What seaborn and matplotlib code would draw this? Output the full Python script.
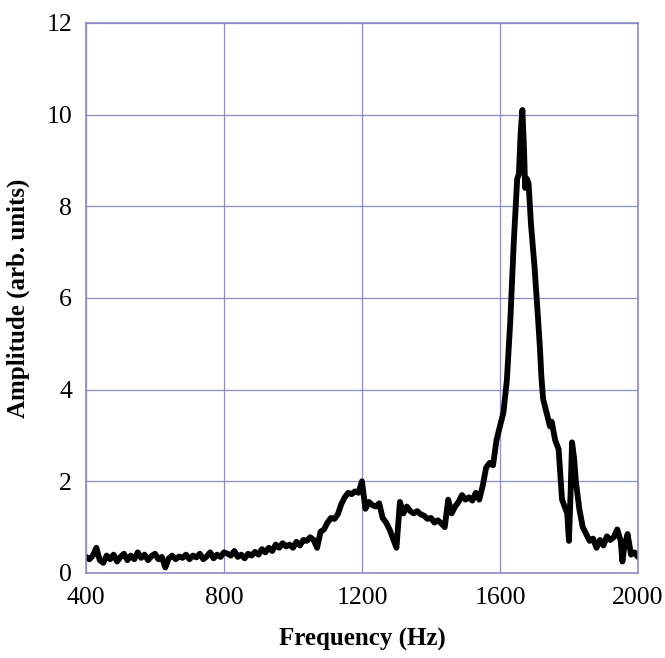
import numpy as np
import pandas as pd
import matplotlib
matplotlib.use('Agg')
import matplotlib.pyplot as plt
from matplotlib.ticker import MultipleLocator
import seaborn as sns

# spectrum
freq = [400, 410, 420, 430, 440, 450, 460, 470, 480, 490,
        500, 510, 520, 530, 540, 550, 560, 570, 580, 590,
        600, 610, 620, 630, 640, 650, 660, 670, 680, 690,
        700, 710, 720, 730, 740, 750, 760, 770, 780, 790,
        800, 810, 820, 830, 840, 850, 860, 870, 880, 890,
        900, 910, 920, 930, 940, 950, 960, 970, 980, 990,
        1000, 1010, 1020, 1030, 1040, 1050, 1060, 1070, 1080, 1090,
        1100, 1110, 1120, 1130, 1140, 1150, 1160, 1170, 1180, 1190,
        1200, 1210, 1220, 1230, 1240, 1250, 1260, 1270, 1280, 1290,
        1300, 1310, 1320, 1330, 1340, 1350, 1360, 1370, 1380, 1390,
        1400, 1410, 1420, 1430, 1440, 1450, 1460, 1470, 1480, 1490,
        1500, 1510, 1520, 1530, 1540, 1550, 1560, 1570, 1580, 1590,
        1600, 1610, 1620, 1630, 1640, 1650, 1655, 1660, 1665, 1670,
        1673, 1678, 1683, 1690, 1700, 1710, 1716, 1720, 1725, 1735,
        1745, 1750, 1760, 1770, 1780, 1790, 1795, 1800, 1805, 1809,
        1815, 1820, 1830, 1840, 1850, 1860, 1870, 1880, 1890, 1900,
        1910, 1920, 1930, 1940, 1950, 1955, 1960, 1970, 1980, 1990,
        2000]
amp = [0.35, 0.30, 0.38, 0.55, 0.28, 0.22, 0.38, 0.30, 0.40, 0.25,
       0.35, 0.42, 0.28, 0.38, 0.30, 0.45, 0.33, 0.40, 0.28, 0.37,
       0.42, 0.30, 0.35, 0.12, 0.32, 0.38, 0.30, 0.36, 0.33, 0.40,
       0.30, 0.38, 0.34, 0.42, 0.30, 0.36, 0.45, 0.32, 0.40, 0.35,
       0.45, 0.42, 0.38, 0.48, 0.35, 0.40, 0.32, 0.42, 0.38, 0.46,
       0.40, 0.52, 0.45, 0.55, 0.48, 0.62, 0.55, 0.65, 0.58, 0.62,
       0.55, 0.68, 0.60, 0.72, 0.70, 0.78, 0.72, 0.55, 0.90, 0.95,
       1.10, 1.20, 1.18, 1.28, 1.50, 1.65, 1.75, 1.72, 1.78, 1.75,
       2.00, 1.40, 1.55, 1.48, 1.45, 1.52, 1.20, 1.10, 0.95, 0.75,
       0.55, 1.55, 1.30, 1.45, 1.35, 1.30, 1.35, 1.28, 1.25, 1.18,
       1.20, 1.10, 1.15, 1.08, 1.00, 1.60, 1.30, 1.45, 1.55, 1.70,
       1.60, 1.65, 1.58, 1.75, 1.60, 1.90, 2.30, 2.40, 2.35, 2.90,
       3.20, 3.50, 4.20, 5.50, 7.20, 8.60, 8.70, 9.60, 10.10, 9.20,
       8.40, 8.60, 8.50, 7.60, 6.70, 5.60, 4.90, 4.30, 3.80, 3.50,
       3.20, 3.30, 2.90, 2.70, 1.60, 1.40, 1.30, 0.70, 1.80, 2.85,
       2.50, 2.00, 1.40, 1.00, 0.85, 0.70, 0.75, 0.55, 0.72, 0.60,
       0.80, 0.72, 0.78, 0.95, 0.70, 0.25, 0.55, 0.85, 0.40, 0.45,
       0.35]

df = pd.DataFrame({'Frequency': freq, 'Amplitude': amp})

sns.set_style('white')
plt.rcParams['font.family'] = ['Liberation Serif', 'DejaVu Serif']
plt.rcParams['text.color'] = 'black'
plt.rcParams['axes.labelcolor'] = 'black'

grid_col = '#8c8cc8'

fig = plt.figure(figsize=(6.65, 6.58), dpi=100)
ax = fig.add_axes([0.1293, 0.1292, 0.830, 0.836])

sns.lineplot(data=df, x='Frequency', y='Amplitude', color='black',
             linewidth=4.2, ax=ax)

ax.set_xlim(400, 2000)
ax.set_ylim(0, 12)
ax.xaxis.set_major_locator(MultipleLocator(400))
ax.xaxis.set_minor_locator(MultipleLocator(100))
ax.yaxis.set_major_locator(MultipleLocator(2))
ax.yaxis.set_minor_locator(MultipleLocator(0.5))

ax.grid(True, which='major', color=grid_col, linewidth=0.9)
for s in ax.spines.values():
    s.set_color(grid_col)
    s.set_linewidth(1.2)

ax.tick_params(which='both', direction='in', color=grid_col,
               top=False, right=False, labelsize=18.5, labelcolor='black')
ax.tick_params(which='major', length=0, pad=10)
ax.tick_params(which='minor', length=5, width=0.9, color=grid_col)

ax.set_xlabel('Frequency (Hz)', fontsize=18, fontweight='bold', labelpad=14, color='black')
ax.set_ylabel('Amplitude (arb. units)', fontsize=18, fontweight='bold', labelpad=12, color='black')

plt.savefig('out.png', dpi=100)
